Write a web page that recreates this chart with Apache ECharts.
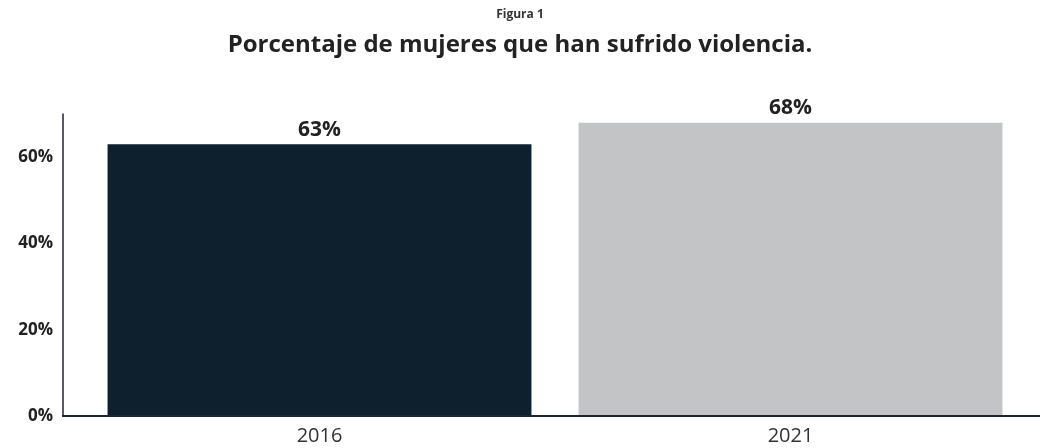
<!DOCTYPE html>
<html>
<head>
<meta charset="utf-8">
<script src="https://cdn.jsdelivr.net/npm/echarts@6/dist/echarts.min.js"></script>
<style>
html,body{margin:0;padding:0;background:#fff;}
#chart{width:1040px;height:448px;}
</style>
</head>
<body>
<div id="chart"></div>
<script>
const categories = ['2016', '2021'];
const values = [63, 68];
const barColors = ['#0e1f2e', '#c3c4c6'];
const yTicks = [0, 20, 40, 60];

const chart = echarts.init(document.getElementById('chart'), null, {renderer: 'canvas'});
const FONT = '"Open Sans", Lato, sans-serif';
chart.setOption({
  animation: false,
  title: [
    {text: 'Figura 1', left: 'center', top: 4,
     textStyle: {fontFamily: FONT, fontSize: 12, fontWeight: 'bold', color: '#333'}},
    {text: 'Porcentaje de mujeres que han sufrido violencia.', left: 'center', top: 28,
     textStyle: {fontFamily: FONT, fontSize: 24, fontWeight: 'bold', color: '#222'}}
  ],
  grid: {left: 84, right: 14, top: 114, bottom: 32, containLabel: false},
  xAxis: {
    type: 'category',
    data: categories,
    axisLine: {show: false},
    axisTick: {show: false},
    axisLabel: {fontFamily: FONT, fontSize: 20, color: '#333', margin: 10}
  },
  yAxis: {
    type: 'value',
    min: 0, max: 70, interval: 20,
    offset: 21,
    splitLine: {show: false},
    axisLine: {show: true, lineStyle: {color: '#1a2633', width: 1.5}},
    axisTick: {show: false},
    axisLabel: {
      fontFamily: FONT, fontSize: 17, fontWeight: 'bold', color: '#222', margin: 10,
      showMaxLabel: false,
      formatter: function (v) { return yTicks.indexOf(v) >= 0 ? v + '%' : ''; }
    }
  },
  series: [{
    type: 'bar',
    barCategoryGap: '10%',
    data: values.map((v, i) => ({value: v, itemStyle: {color: barColors[i]}})),
    label: {
      show: true, position: 'top', distance: 4,
      formatter: '{c}%',
      fontFamily: FONT, fontSize: 21, fontWeight: 'bold', color: '#222'
    }
  }],
  graphic: [{
    type: 'line',
    shape: {x1: 62, y1: 416, x2: 1040, y2: 416},
    style: {stroke: '#1a2633', lineWidth: 2},
    z: 10
  }]
});
</script>
</body>
</html>
